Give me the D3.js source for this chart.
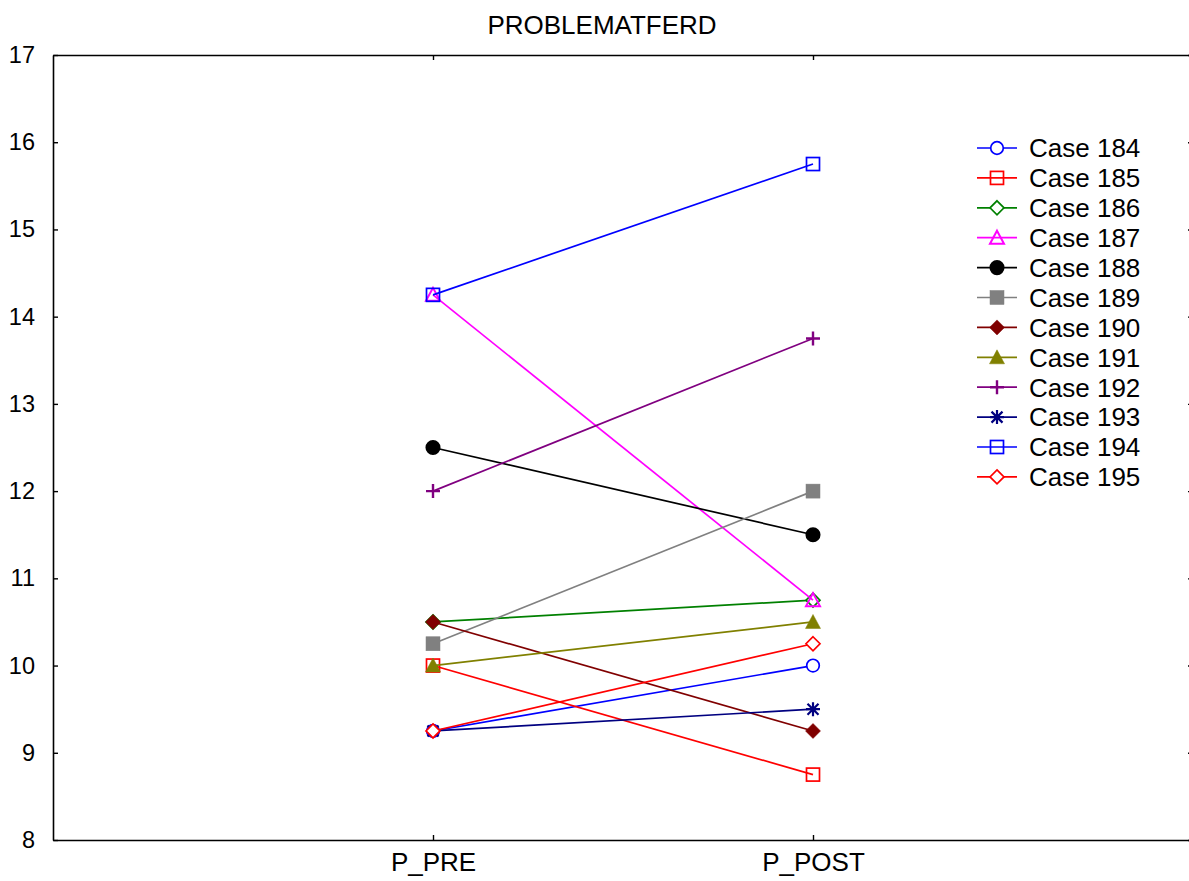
<!DOCTYPE html>
<html><head><meta charset="utf-8">
<script src="https://cdn.jsdelivr.net/npm/d3@7"></script>
<style>
html,body{margin:0;padding:0;background:#fff;}
text{font-family:"Liberation Sans",Arial,sans-serif;fill:#000;}
</style></head>
<body>
<svg id="chart" width="1189" height="881"></svg>
<script>
const title = "PROBLEMATFERD";
const categories = ["P_PRE", "P_POST"];
const cases = ["Case 184","Case 185","Case 186","Case 187","Case 188","Case 189","Case 190","Case 191","Case 192","Case 193","Case 194","Case 195"];
const preValues  = [9.25, 10.0, 10.5, 14.25, 12.5, 10.25, 10.5, 10.0, 12.0, 9.25, 14.25, 9.25];
const postValues = [10.0, 8.75, 10.75, 10.75, 11.5, 12.0, 9.25, 10.5, 13.75, 9.5, 15.75, 10.25];
const colors = ["#0000ff","#ff0000","#008000","#ff00ff","#000000","#808080","#800000","#808000","#800080","#000080","#0000ff","#ff0000"];
const markers = ["circleOpen","squareOpen","diamondOpen","triangleOpen","circleFilled","squareFilled","diamondFilled","triangleFilled","plus","asterisk","squareOpen","diamondOpen"];
const yTicks = [8,9,10,11,12,13,14,15,16,17];

(function(){
const svg = d3.select("#chart");
const pL = 53, pT = 55, pR = 1193, pB = 840;

const x = d3.scalePoint().domain(categories).range([pL, pR]).padding(1);
const y = d3.scaleLinear().domain([8, 17]).range([pB, pT]);

// title
svg.append("text").attr("x", 602).attr("y", 34).attr("text-anchor","middle")
  .style("font-size","26px").text(title);

// axes
const gL = svg.append("g").attr("transform",`translate(${pL},0)`)
  .call(d3.axisLeft(y).tickValues(yTicks).tickSizeInner(-5).tickSizeOuter(0).tickPadding(18).tickFormat(d3.format("d")));
const gR = svg.append("g").attr("transform",`translate(${pR},0)`)
  .call(d3.axisRight(y).tickValues(yTicks).tickSizeInner(-5).tickSizeOuter(0).tickFormat(""));
const gB = svg.append("g").attr("transform",`translate(0,${pB})`)
  .call(d3.axisBottom(x).tickSizeInner(-5).tickSizeOuter(0).tickPadding(13));
const gT = svg.append("g").attr("transform",`translate(0,${pT})`)
  .call(d3.axisTop(x).tickSizeInner(-5).tickSizeOuter(0).tickFormat(""));
[gL,gR,gB,gT].forEach(g=>{
  g.selectAll(".domain").attr("stroke","#000").attr("stroke-width",1.6);
  g.selectAll(".tick line").attr("stroke","#000").attr("stroke-width",1.4);
});
gL.selectAll(".tick text").style("font-size","23.5px").attr("font-family",null).attr("fill","#000");
gB.selectAll(".tick text").style("font-size","26px").attr("font-family",null).attr("fill","#000").attr("dy","0.71em");

function drawMarker(g, type, color, cx, cy) {
  const sw = 1.7;
  switch(type){
    case "circleOpen":
      g.append("circle").attr("cx",cx).attr("cy",cy).attr("r",6.3).attr("fill","#fff").attr("stroke",color).attr("stroke-width",sw); break;
    case "circleFilled":
      g.append("circle").attr("cx",cx).attr("cy",cy).attr("r",6.7).attr("fill",color).attr("stroke",color).attr("stroke-width",sw); break;
    case "squareOpen":
      g.append("rect").attr("x",cx-6.5).attr("y",cy-6.5).attr("width",13).attr("height",13).attr("fill","none").attr("stroke",color).attr("stroke-width",sw); break;
    case "squareFilled":
      g.append("rect").attr("x",cx-7).attr("y",cy-7).attr("width",14).attr("height",14).attr("fill",color).attr("stroke",color).attr("stroke-width",0.5); break;
    case "diamondOpen":
      g.append("path").attr("d",`M${cx},${cy-7}L${cx+7},${cy}L${cx},${cy+7}L${cx-7},${cy}Z`).attr("fill","#fff").attr("stroke",color).attr("stroke-width",sw); break;
    case "diamondFilled":
      g.append("path").attr("d",`M${cx},${cy-7.5}L${cx+7.5},${cy}L${cx},${cy+7.5}L${cx-7.5},${cy}Z`).attr("fill",color).attr("stroke",color).attr("stroke-width",0.5); break;
    case "triangleOpen":
      g.append("path").attr("d",`M${cx},${cy-7}L${cx+7},${cy+6}L${cx-7},${cy+6}Z`).attr("fill","none").attr("stroke",color).attr("stroke-width",2); break;
    case "triangleFilled":
      g.append("path").attr("d",`M${cx},${cy-7.5}L${cx+7.5},${cy+6.5}L${cx-7.5},${cy+6.5}Z`).attr("fill",color).attr("stroke",color).attr("stroke-width",0.5); break;
    case "plus":
      g.append("path").attr("d",`M${cx-7},${cy}H${cx+7}M${cx},${cy-7}V${cy+7}`).attr("stroke",color).attr("stroke-width",2.4).attr("fill","none"); break;
    case "asterisk":
      g.append("path").attr("d",`M${cx-7},${cy}H${cx+7}M${cx},${cy-7}V${cy+7}M${cx-5.5},${cy-5.5}L${cx+5.5},${cy+5.5}M${cx-5.5},${cy+5.5}L${cx+5.5},${cy-5.5}`).attr("stroke",color).attr("stroke-width",2.2).attr("fill","none"); break;
  }
}

const line = d3.line().x(d=>x(d.c)).y(d=>y(d.v));
cases.forEach((name,i)=>{
  const g = svg.append("g");
  const pts = [{c:categories[0], v:preValues[i]},{c:categories[1], v:postValues[i]}];
  g.append("path").attr("d", line(pts)).attr("fill","none").attr("stroke",colors[i]).attr("stroke-width",1.7);
  pts.forEach(p=>drawMarker(g, markers[i], colors[i], x(p.c), y(p.v)));
});

// legend
const legY0 = 148, legStep = 29.9;
cases.forEach((name,i)=>{
  const ly = legY0 + i*legStep;
  const g = svg.append("g");
  g.append("line").attr("x1",977).attr("x2",1017).attr("y1",ly).attr("y2",ly).attr("stroke",colors[i]).attr("stroke-width",1.7);
  drawMarker(g, markers[i], colors[i], 997, ly);
  g.append("text").attr("x",1029).attr("y",ly).attr("dy","0.36em").style("font-size","26px").text(name);
});
})();
</script>
</body></html>
